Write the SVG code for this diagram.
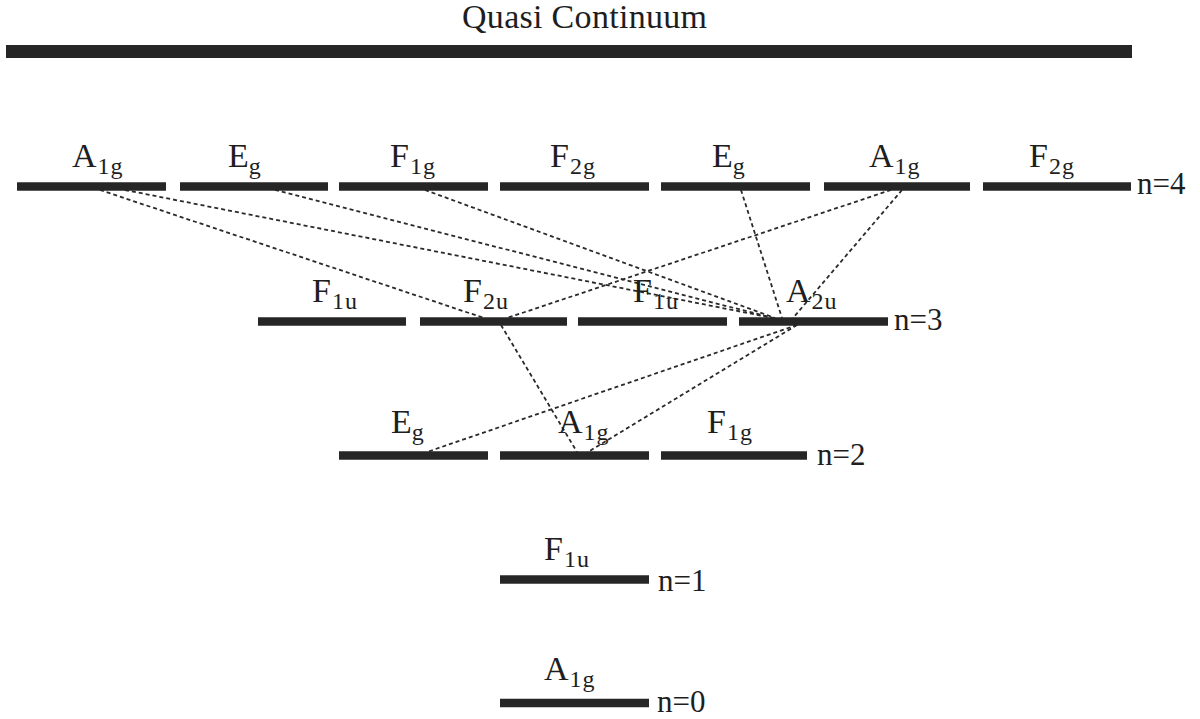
<svg xmlns="http://www.w3.org/2000/svg" width="1200" height="719" viewBox="0 0 1200 719">
<style>
text{font-family:"Liberation Serif","Times New Roman",serif;fill:#1e1e1e}
.lbl{font-size:34px}
.sub{font-size:24px;letter-spacing:1px}
.n{font-size:31px}
.bar{stroke:#262626;stroke-width:8.5;fill:none}
.top{stroke:#262626;stroke-width:13;fill:none}
.c{stroke:#2a2a2a;stroke-width:1.8;stroke-dasharray:4 3;fill:none}
</style>
<rect width="1200" height="719" fill="#fff"/>
<g id="continuum">
<text x="462" y="28" font-size="34" textLength="245">Quasi Continuum</text>
<line class="top" x1="6" y1="51.5" x2="1132" y2="51.5"/>
</g>
<g id="connectors">
<line class="c" x1="100" y1="190" x2="484" y2="318"/>
<line class="c" x1="125" y1="190" x2="773" y2="318"/>
<line class="c" x1="275" y1="190" x2="773" y2="318"/>
<line class="c" x1="425" y1="190" x2="775" y2="318"/>
<line class="c" x1="741" y1="190" x2="782" y2="318"/>
<line class="c" x1="891" y1="190" x2="507" y2="318"/>
<line class="c" x1="902" y1="190" x2="793" y2="318"/>
<line class="c" x1="501" y1="325" x2="577" y2="452"/>
<line class="c" x1="797" y1="325" x2="427" y2="452"/>
<line class="c" x1="797" y1="325" x2="588" y2="452"/>
</g>
<g id="n4">
<g id="n4-A1g-a"><line class="bar" x1="17" y1="186.5" x2="166" y2="186.5"/><text class="lbl" x="72" y="167">A<tspan class="sub" dx="1" dy="7">1g</tspan></text></g>
<g id="n4-Eg-a"><line class="bar" x1="180" y1="186.5" x2="328" y2="186.5"/><text class="lbl" x="228" y="167">E<tspan class="sub" dy="7">g</tspan></text></g>
<g id="n4-F1g"><line class="bar" x1="339" y1="186.5" x2="488" y2="186.5"/><text class="lbl" x="390" y="167">F<tspan class="sub" dx="1" dy="7">1g</tspan></text></g>
<g id="n4-F2g-a"><line class="bar" x1="500" y1="186.5" x2="649" y2="186.5"/><text class="lbl" x="550" y="167">F<tspan class="sub" dx="1" dy="7">2g</tspan></text></g>
<g id="n4-Eg-b"><line class="bar" x1="661" y1="186.5" x2="810" y2="186.5"/><text class="lbl" x="712" y="167">E<tspan class="sub" dy="7">g</tspan></text></g>
<g id="n4-A1g-b"><line class="bar" x1="824" y1="186.5" x2="970" y2="186.5"/><text class="lbl" x="869" y="167">A<tspan class="sub" dx="1" dy="7">1g</tspan></text></g>
<g id="n4-F2g-b"><line class="bar" x1="983" y1="186.5" x2="1131" y2="186.5"/><text class="lbl" x="1029" y="167">F<tspan class="sub" dx="1" dy="7">2g</tspan></text></g>
<text class="n" x="1137" y="194">n=4</text>
</g>
<g id="n3">
<g id="n3-F1u-a"><line class="bar" x1="258" y1="321.5" x2="406" y2="321.5"/><text class="lbl" x="312" y="302">F<tspan class="sub" dx="1" dy="7">1u</tspan></text></g>
<g id="n3-F2u"><line class="bar" x1="420" y1="321.5" x2="567" y2="321.5"/><text class="lbl" x="463" y="302">F<tspan class="sub" dx="1" dy="7">2u</tspan></text></g>
<g id="n3-F1u-b"><line class="bar" x1="578" y1="321.5" x2="727" y2="321.5"/><text class="lbl" x="633" y="302">F<tspan class="sub" dx="1" dy="7">1u</tspan></text></g>
<g id="n3-A2u"><line class="bar" x1="739" y1="321.5" x2="888" y2="321.5"/><text class="lbl" x="786" y="302">A<tspan class="sub" dx="1" dy="7">2u</tspan></text></g>
<text class="n" x="894" y="330">n=3</text>
</g>
<g id="n2">
<g id="n2-Eg"><line class="bar" x1="339" y1="455.5" x2="488" y2="455.5"/><text class="lbl" x="391" y="433">E<tspan class="sub" dy="7">g</tspan></text></g>
<g id="n2-A1g"><line class="bar" x1="500" y1="455.5" x2="649" y2="455.5"/><text class="lbl" x="558" y="433">A<tspan class="sub" dx="1" dy="7">1g</tspan></text></g>
<g id="n2-F1g"><line class="bar" x1="661" y1="455.5" x2="807" y2="455.5"/><text class="lbl" x="707" y="433">F<tspan class="sub" dx="1" dy="7">1g</tspan></text></g>
<text class="n" x="817" y="465">n=2</text>
</g>
<g id="n1">
<g id="n1-F1u"><line class="bar" x1="500" y1="579.5" x2="649" y2="579.5"/><text class="lbl" x="544" y="560">F<tspan class="sub" dx="1" dy="7">1u</tspan></text></g>
<text class="n" x="658" y="591">n=1</text>
</g>
<g id="n0">
<g id="n0-A1g"><line class="bar" x1="500" y1="703" x2="649" y2="703"/><text class="lbl" x="544" y="680">A<tspan class="sub" dx="1" dy="7">1g</tspan></text></g>
<text class="n" x="657" y="712">n=0</text>
</g>
</svg>
